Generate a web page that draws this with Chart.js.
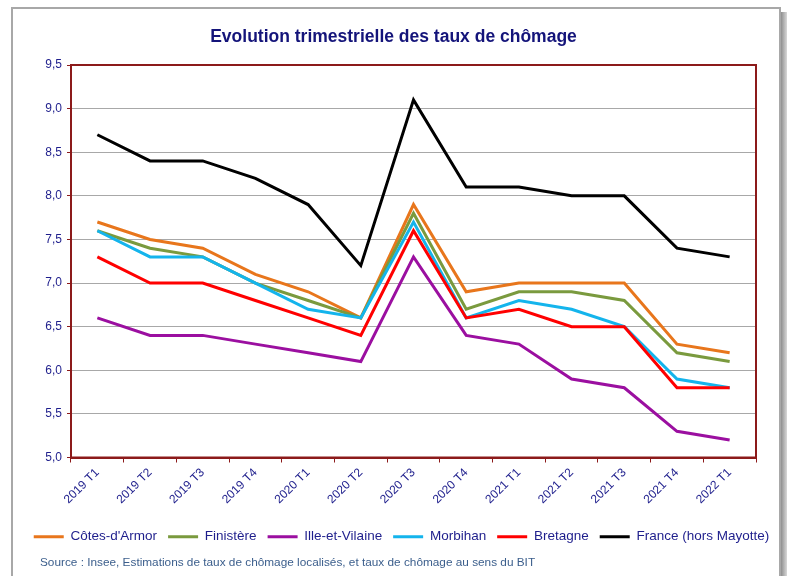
<!DOCTYPE html>
<html>
<head>
<meta charset="utf-8">
<script src="https://cdn.jsdelivr.net/npm/chart.js@4.4.1/dist/chart.umd.min.js"></script>
<style>
html,body{margin:0;padding:0;background:#fff;}
#wrap{position:relative;width:787px;height:576px;}
</style>
</head>
<body>
<div id="wrap"><canvas id="c" width="787" height="576"></canvas></div>
<script>
const categories = ["2019 T1","2019 T2","2019 T3","2019 T4","2020 T1","2020 T2","2020 T3","2020 T4","2021 T1","2021 T2","2021 T3","2021 T4","2022 T1"];
const cotesArmor   = [7.7,7.5,7.4,7.1,6.9,6.6,7.9,6.9,7.0,7.0,7.0,6.3,6.2];
const finistere    = [7.6,7.4,7.3,7.0,6.8,6.6,7.8,6.7,6.9,6.9,6.8,6.2,6.1];
const illeVilaine  = [6.6,6.4,6.4,6.3,6.2,6.1,7.3,6.4,6.3,5.9,5.8,5.3,5.2];
const morbihan     = [7.6,7.3,7.3,7.0,6.7,6.6,7.7,6.6,6.8,6.7,6.5,5.9,5.8];
const bretagne     = [7.3,7.0,7.0,6.8,6.6,6.4,7.6,6.6,6.7,6.5,6.5,5.8,5.8];
const france       = [8.7,8.4,8.4,8.2,7.9,7.2,9.1,8.1,8.1,8.0,8.0,7.4,7.3];
const seriesNames  = ["Côtes-d'Armor","Finistère","Ille-et-Vilaine","Morbihan","Bretagne","France (hors Mayotte)"];
const titleText = "Evolution trimestrielle des taux de chômage";
const sourceText = "Source : Insee, Estimations de taux de chômage localisés, et taux de chômage au sens du BIT";

const colors = ["#E8761C","#7A9A3E","#9B0FA0","#14B4EC","#FF0000","#000000"];
const FONT = "'Liberation Sans', Arial, sans-serif";
const NAVY = "#1E1E8C";
const AXIS_RED = "#8C1A1A";

const values = [cotesArmor, finistere, illeVilaine, morbihan, bretagne, france];
const datasets = values.map((v, i) => ({
  label: seriesNames[i],
  data: v,
  borderColor: colors[i],
  backgroundColor: colors[i],
  borderWidth: 3,
  pointRadius: 0,
  pointHoverRadius: 0,
  tension: 0,
  fill: false,
  order: 5 - i,
  yAxisID: 'y'
}));

const framePlugin = {
  id: 'frame',
  beforeDraw(chart) {
    const ctx = chart.ctx;
    ctx.save();
    ctx.fillStyle = '#fff';
    ctx.fillRect(0, 0, chart.width, chart.height);
    const g = ctx.createLinearGradient(781, 0, 787, 0);
    g.addColorStop(0, '#8f8f8f');
    g.addColorStop(1, '#d8d8d8');
    ctx.fillStyle = g;
    ctx.fillRect(781, 12, 6, chart.height - 12);
    ctx.strokeStyle = '#a8a8a8';
    ctx.lineWidth = 2;
    ctx.strokeRect(12, 8, 768, 620);
    ctx.restore();
  },
  afterLayout(chart) {
    if (chart.legend) { chart.legend.left += 8; chart.legend.right += 8; }
  },
  beforeDatasetsDraw(chart) {
    const {ctx, chartArea: a} = chart;
    ctx.save();
    ctx.strokeStyle = AXIS_RED;
    ctx.lineWidth = 2;
    ctx.strokeRect(a.left, a.top, a.right - a.left, a.bottom - a.top);
    ctx.restore();
  },
  afterDraw(chart) {
    const ctx = chart.ctx;
    ctx.save();
    ctx.font = "11.8px " + FONT;
    ctx.fillStyle = "#3B5E8C";
    ctx.textBaseline = 'middle';
    ctx.textAlign = 'left';
    ctx.fillText(sourceText, 40, 563);
    ctx.restore();
  }
};

new Chart(document.getElementById('c'), {
  type: 'line',
  data: { labels: categories, datasets },
  plugins: [framePlugin],
  options: {
    responsive: false,
    animation: false,
    devicePixelRatio: 1,
    layout: { padding: { top: 0, left: 0, right: 0, bottom: 22.5 } },
    plugins: {
      title: {
        display: true,
        text: titleText,
        color: "#14147A",
        font: { family: FONT, size: 17.5, weight: 'bold' },
        padding: { top: 27, bottom: 17 }
      },
      legend: {
        position: 'bottom',
        labels: {
          usePointStyle: true,
          pointStyle: 'line',
          pointStyleWidth: 30,
          padding: 11,
          color: NAVY,
          font: { family: FONT, size: 13.5 },
          sort: (a, b) => a.datasetIndex - b.datasetIndex
        }
      },
      tooltip: { enabled: false }
    },
    scales: {
      x: {
        type: 'category',
        offset: true,
        grid: { display: true, offset: true, drawOnChartArea: false, drawTicks: true, tickLength: 5, color: AXIS_RED, lineWidth: 1 },
        border: { display: true, color: AXIS_RED, width: 2 },
        ticks: { color: NAVY, font: { family: FONT, size: 12 }, minRotation: 45, maxRotation: 45, autoSkip: false, padding: 3 },
        afterFit(s) { s.height = 61.5; }
      },
      y: {
        position: 'left',
        min: 5, max: 9.5,
        grid: { color: '#a8a8a8', lineWidth: 1, tickColor: AXIS_RED, tickLength: 4, drawTicks: true },
        border: { display: true, color: AXIS_RED, width: 2 },
        ticks: {
          stepSize: 0.5,
          color: NAVY,
          font: { family: FONT, size: 12 },
          padding: 5,
          callback: (v) => Number(v).toFixed(1).replace('.', ',')
        },
        afterFit(s) { s.width = 71; }
      },
      yR: {
        position: 'right',
        display: true,
        grid: { display: false, drawTicks: false },
        border: { display: false },
        ticks: { display: false },
        afterFit(s) { s.width = 31; }
      }
    }
  }
});
</script>
</body>
</html>
